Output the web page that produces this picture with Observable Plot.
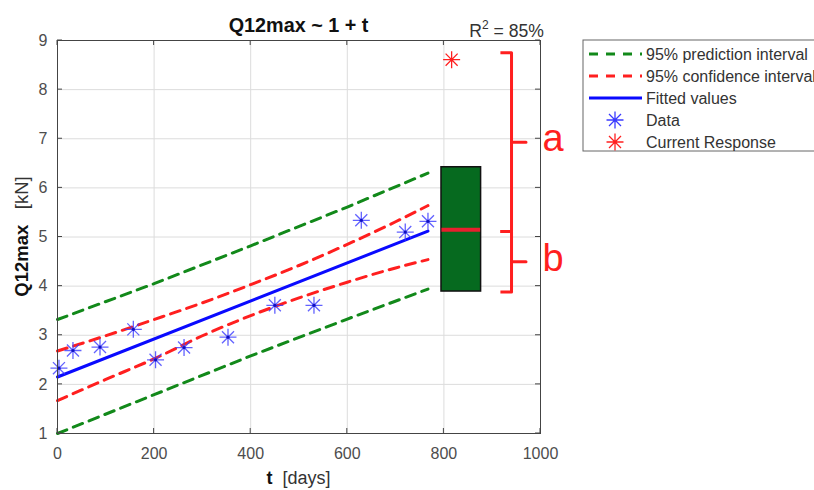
<!DOCTYPE html>
<html><head><meta charset="utf-8">
<script src="https://cdn.jsdelivr.net/npm/d3@7"></script>
<script src="https://cdn.jsdelivr.net/npm/@observablehq/plot@0.6"></script>
<style>
html,body{margin:0;padding:0;background:#fff;overflow:hidden;}
#chart{position:relative;width:814px;height:490px;overflow:hidden;}
</style></head><body><div id="chart"></div>
<script>
// ---- data ----
const tDays  = [3, 32, 88, 157, 203, 262, 353, 450, 531, 629, 720, 767];
const q12max = [2.33, 2.69, 2.76, 3.12, 2.50, 2.75, 2.96, 3.61, 3.61, 5.34, 5.10, 5.32];

const fitT = [0, 767];
const fitQ = [2.15, 5.12];

const ciT     = [0, 100, 200, 300, 400, 500, 600, 700, 767];
const ciUpper = [2.68, 2.99, 3.32, 3.66, 4.03, 4.42, 4.85, 5.31, 5.64];
const ciLower = [1.67, 2.10, 2.52, 2.99, 3.40, 3.76, 4.08, 4.37, 4.54];

const piT     = [0, 200, 400, 600, 767];
const piUpper = [3.32, 4.05, 4.82, 5.61, 6.30];
const piLower = [1.00, 1.79, 2.58, 3.33, 3.94];

const currentT = [816];
const currentQ = [8.61];

const boxT      = [795, 877];
const boxLow    = [3.89];
const boxMedian = [5.15];
const boxHigh   = [6.42];

const braceLabels = ["a", "b"];
const braceLow    = [5.11, 3.88];
const braceHigh   = [8.75, 5.11];
const braceT      = {hook: 917, spine: 940, tip: 970, label: 1004};

const xTicks = [0, 200, 400, 600, 800, 1000];
const yTicks = [1, 2, 3, 4, 5, 6, 7, 8, 9];

const titleText = "Q12max ~ 1 + t";
const r2Text = "85%";
const legendLabels = ["95% prediction interval", "95% confidence interval", "Fitted values", "Data", "Current Response"];

// ---- styles ----
const FONT = "'Liberation Sans', Arial, Helvetica, sans-serif";
const GREEN = "#12891a", RED = "#ff1f1f", BLUE = "#0a0aff", STAR = "#3b3bff";

const asterisk = {
  draw(ctx, size) {
    const r = Math.sqrt(size / Math.PI), d = r * Math.SQRT1_2;
    ctx.moveTo(-r, 0); ctx.lineTo(r, 0);
    ctx.moveTo(0, -r); ctx.lineTo(0, r);
    ctx.moveTo(-d, -d); ctx.lineTo(d, d);
    ctx.moveTo(-d, d); ctx.lineTo(d, -d);
  }
};

const pts = tDays.map((t, i) => ({t, q: q12max[i]}));
const ci = ciT.map((t, i) => ({t, up: ciUpper[i], lo: ciLower[i]}));
const pi = piT.map((t, i) => ({t, up: piUpper[i], lo: piLower[i]}));
const fit = fitT.map((t, i) => ({t, q: fitQ[i]}));
const cur = currentT.map((t, i) => ({t, q: currentQ[i]}));
const braces = [];
braceLabels.forEach((k, i) => {
  const lo = braceLow[i], hi = braceHigh[i], mid = (lo + hi) / 2;
  [[braceT.hook, hi], [braceT.spine, hi], [braceT.spine, mid], [braceT.tip, mid],
   [braceT.spine, mid], [braceT.spine, lo], [braceT.hook, lo]]
    .forEach(([t, q]) => braces.push({k, t, q}));
});
const braceText = braceLabels.map((k, i) => ({k, q: (braceLow[i] + braceHigh[i]) / 2}));

const dash = "10,7";
const plot = Plot.plot({
  width: 814, height: 490,
  marginLeft: 57, marginRight: 274, marginTop: 40, marginBottom: 57,
  style: {fontFamily: FONT, background: "white"},
  x: {domain: [0, 1000], label: null},
  y: {domain: [1, 9], label: null},
  marks: [
    Plot.gridX(xTicks, {stroke: "#dcdcdc", strokeOpacity: 1}),
    Plot.gridY(yTicks, {stroke: "#dcdcdc", strokeOpacity: 1}),
    Plot.axisX(xTicks, {tickSize: 0, tickPadding: 14, fontSize: 16, color: "#4d4d4d", label: null, tickFormat: d => String(d)}),
    Plot.axisY(yTicks, {tickSize: 0, tickPadding: 10, fontSize: 16, color: "#4d4d4d", label: null, tickFormat: d => String(d)}),
    Plot.line(pi, {x: "t", y: "up", stroke: GREEN, strokeWidth: 3, strokeDasharray: dash}),
    Plot.line(pi, {x: "t", y: "lo", stroke: GREEN, strokeWidth: 3, strokeDasharray: dash}),
    Plot.line(ci, {x: "t", y: "up", stroke: RED, strokeWidth: 3, strokeDasharray: dash, curve: "monotone-x"}),
    Plot.line(ci, {x: "t", y: "lo", stroke: RED, strokeWidth: 3, strokeDasharray: dash, curve: "monotone-x"}),
    Plot.line(fit, {x: "t", y: "q", stroke: BLUE, strokeWidth: 3}),
    Plot.dot(pts, {x: "t", y: "q", symbol: asterisk, r: 8.5, stroke: STAR, strokeWidth: 1.3, fill: "none", strokeOpacity: 0.8}),
    Plot.dot(pts, {x: "t", y: "q", r: 1.6, fill: "#1010c0", stroke: "none"}),
    Plot.rect([0], {x1: boxT[0], x2: boxT[1], y1: boxLow[0], y2: boxHigh[0], fill: "#066a1f", stroke: "#111", strokeWidth: 1.5}),
    Plot.ruleY(boxMedian, {x1: boxT[0] + 1, x2: boxT[1] - 1, stroke: "#e8202e", strokeWidth: 4}),
    Plot.dot(cur, {x: "t", y: "q", symbol: asterisk, r: 8.5, stroke: RED, strokeWidth: 1.3, fill: "none"}),
    Plot.dot(cur, {x: "t", y: "q", r: 1.4, fill: RED, stroke: "none"}),
    Plot.line(braces, {x: "t", y: "q", z: "k", stroke: RED, strokeWidth: 3, strokeLinejoin: "round", strokeLinecap: "butt"}),
    Plot.text(braceText, {x: braceT.label, y: "q", text: "k", fill: RED, fontSize: 38, textAnchor: "start", fontFamily: FONT, dy: -3}),
    Plot.frame({stroke: "#444", strokeWidth: 1})
  ]
});

const svg = d3.select(plot);
const sx = plot.scale("x"), sy = plot.scale("y");
const [X0, X1] = [sx.apply(0), sx.apply(1000)];
const [Y0, Y1] = [sy.apply(1), sy.apply(9)];
const tick = svg.append("g").attr("stroke", "#444").attr("stroke-width", 1);
xTicks.forEach(v => {
  const x = sx.apply(v);
  tick.append("line").attr("x1", x).attr("x2", x).attr("y1", Y0).attr("y2", Y0 - 5);
  tick.append("line").attr("x1", x).attr("x2", x).attr("y1", Y1).attr("y2", Y1 + 5);
});
yTicks.forEach(v => {
  const y = sy.apply(v);
  tick.append("line").attr("y1", y).attr("y2", y).attr("x1", X0).attr("x2", X0 + 5);
  tick.append("line").attr("y1", y).attr("y2", y).attr("x1", X1).attr("x2", X1 - 5);
});

// title
svg.append("text").attr("x", (X0 + X1) / 2).attr("y", 32).attr("text-anchor", "middle")
  .attr("font-family", FONT).attr("font-size", 19.8).attr("font-weight", "bold").attr("fill", "#111")
  .text(titleText);
const r2 = svg.append("text").attr("x", X1 + 4).attr("y", 37).attr("text-anchor", "end")
  .attr("font-family", FONT).attr("font-size", 17.6).attr("fill", "#333");
r2.append("tspan").text("R");
r2.append("tspan").attr("font-size", 12).attr("dy", -8).text("2");
r2.append("tspan").attr("dy", 8).text(" = " + r2Text);

// axis labels
const xl = svg.append("text").attr("x", (X0 + X1) / 2).attr("y", 484).attr("text-anchor", "middle")
  .attr("font-family", FONT).attr("font-size", 18).attr("fill", "#333");
xl.append("tspan").attr("font-weight", "bold").attr("fill", "#111").text("t");
xl.append("tspan").attr("xml:space", "preserve").text("  [days]");
const yl = svg.append("text").attr("transform", `translate(28,${(Y0 + Y1) / 2}) rotate(-90)`).attr("text-anchor", "middle")
  .attr("font-family", FONT).attr("font-size", 18.5).attr("fill", "#333");
yl.append("tspan").attr("font-weight", "bold").attr("fill", "#111").text("Q12max");
yl.append("tspan").attr("xml:space", "preserve").text("   [kN]");

// legend
const lg = svg.append("g").attr("font-family", FONT).attr("font-size", 16).attr("fill", "#333").attr("text-anchor", "start");
lg.append("rect").attr("x", 583).attr("y", 40).attr("width", 260).attr("height", 111)
  .attr("fill", "white").attr("stroke", "#666").attr("stroke-width", 1);
const rowY = i => 54 + 22 * i;
const lineStyles = [[GREEN, "9,8"], [RED, "9,8"], [BLUE, null]];
lineStyles.forEach(([c, da], i) => {
  lg.append("line").attr("x1", 589).attr("x2", 642).attr("y1", rowY(i)).attr("y2", rowY(i))
    .attr("stroke", c).attr("stroke-width", 3).attr("stroke-dasharray", da);
});
[[STAR, 3], [RED, 4]].forEach(([c, i]) => {
  lg.append("path").attr("transform", `translate(615,${rowY(i)})`)
    .attr("d", d3.symbol(asterisk, Math.PI * 72)()).attr("stroke", c).attr("stroke-width", 1.3).attr("fill", "none");
});
legendLabels.forEach((s, i) => {
  lg.append("text").attr("x", 646).attr("y", rowY(i)).attr("dy", "0.35em").attr("text-anchor", "start").text(s);
});

document.getElementById("chart").appendChild(plot);
</script></body></html>
